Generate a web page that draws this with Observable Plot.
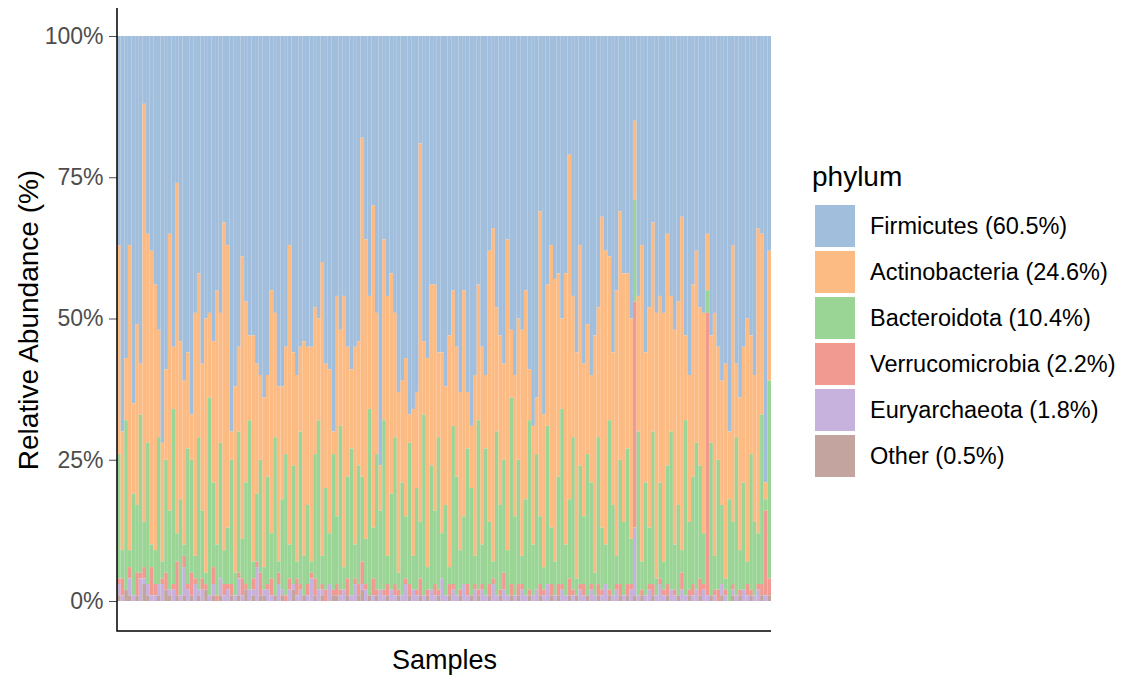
<!DOCTYPE html>
<html><head><meta charset="utf-8">
<script src="https://cdn.jsdelivr.net/npm/d3@7"></script>
<script src="https://cdn.jsdelivr.net/npm/@observablehq/plot@0.6"></script>
<style>
body{margin:0;background:#fff;font-family:"Liberation Sans",Arial,sans-serif;}
#wrap{position:relative;width:1128px;height:680px;overflow:hidden;}
#chart{position:absolute;left:0;top:0;}
#legend{position:absolute;left:812px;top:159px;color:#000;}
#legend .title{font-size:28px;line-height:36px;height:36px;}
#legend .rows{margin-top:10px;}
#legend .row{display:flex;align-items:center;height:42px;margin-bottom:4px;}
#legend .sw{width:40px;height:42px;margin-left:3px;}
#legend .lab{margin-left:15px;font-size:23.5px;}
</style></head>
<body><div id="wrap"><div id="chart"></div><div id="legend"></div></div>
<script>
const phyla = ["Firmicutes","Actinobacteria","Bacteroidota","Verrucomicrobia","Euryarchaeota","Other"];
const shares = ["60.5%","24.6%","10.4%","2.2%","1.8%","0.5%"];
const colors = ["#A1BEDC","#FDBB84","#9BD596","#F09A92","#C7B1DD","#C4A49F"];
const stackOrder = ["Other","Euryarchaeota","Verrucomicrobia","Bacteroidota","Actinobacteria","Firmicutes"];
const yTicks = [0,25,50,75,100];
const yTitle = "Relative Abundance (%)";
const xTitle = "Samples";
const legendTitle = "phylum";

const firmicutes = [
37,70,57,37,65,51,58,12,35,38,
44,52,72,59,35,55,26,54,61,56,
67,49,42,58,50,49,54,45,49,33,
37,70,62,55,39,47,53,53,58,60,
64,60,45,49,62,62,55,37,56,60,
55,54,55,55,48,50,40,58,59,70,
46,52,46,55,59,55,54,18,36,46,
30,49,76,36,46,42,49,63,61,57,
67,66,63,19,54,57,44,44,56,56,
62,53,45,55,63,45,63,69,60,44,
55,60,38,34,48,53,58,36,52,60,
50,52,45,59,69,64,31,67,44,37,
43,42,50,42,21,46,56,37,58,51,
60,53,48,32,38,39,56,45,31,42,
42,50,15,46,37,56,48,33,49,46,
49,35,46,52,47,32,53,60,44,38,
48,49,35,53,49,55,61,58,70,37,
58,64,55,50,53,60,34,35,79,38];
const actinobacteria = [
37,21,11,54,16,32,9,74,37,52,
47,19,21,16,49,11,62,28,29,17,
8,43,29,26,45,15,25,45,23,58,
50,5,33,15,50,32,15,40,23,15,
30,18,43,22,31,20,19,53,20,33,
15,38,28,38,26,18,52,22,29,4,
39,17,48,23,14,35,22,60,53,20,
57,25,8,32,46,39,22,32,18,28,
5,26,17,67,13,37,32,40,15,32,
21,41,24,23,28,40,10,11,32,24,
35,13,48,59,22,30,17,55,12,25,
25,40,37,9,21,10,54,27,25,50,
50,36,16,48,61,25,40,39,27,23,
19,42,23,55,52,29,27,47,44,44,
31,39,14,24,56,23,39,37,47,33,
44,41,24,38,36,59,15,26,34,34,
28,39,10,19,43,20,22,38,12,49,
13,27,24,43,21,26,54,32,3,23];
const bacteroidota = [
22,5,30,3,18,12,28,8,25,4,
6,26,3,20,14,31,5,17,2,24,
20,4,27,12,2,35,15,9,24,6,
10,22,4,25,7,18,30,3,12,20,
4,19,8,28,2,16,25,6,21,3,
27,7,14,2,22,30,5,18,9,24,
12,29,4,18,26,6,21,15,8,33,
9,24,14,30,5,17,26,3,20,11,
25,6,18,10,32,4,22,13,27,8,
16,3,28,21,7,12,24,19,5,30,
7,26,11,3,29,15,20,8,33,14,
22,5,17,30,9,24,12,4,28,10,
6,19,31,9,14,27,3,21,12,25,
18,4,26,11,7,30,16,5,22,13,
24,8,18,29,5,20,10,27,3,17,
5,21,28,8,16,4,31,12,19,26,
20,9,4,27,6,23,14,2,18,11,
28,7,19,4,24,13,9,30,2,35];
const verrucomicrobia = [
1,3,0,2,0,4,1,2,0,5,
2,0,1,3,0,1,6,0,2,1,
4,1,0,2,1,0,3,1,0,2,
1,2,0,1,3,1,0,2,1,4,
0,1,3,0,2,0,1,2,0,3,
1,0,2,1,3,0,1,2,0,1,
2,1,0,3,0,1,2,4,1,0,
3,1,0,1,2,0,2,1,0,1,
2,0,1,3,0,1,0,2,1,0,
0,2,1,0,1,0,2,0,1,1,
1,0,2,1,0,1,3,0,2,0,
2,1,0,1,0,0,2,1,0,2,
0,2,1,0,3,1,0,1,2,0,
1,0,2,1,0,1,0,1,2,0,
2,1,40,0,1,0,1,2,0,1,
1,2,0,1,0,3,0,1,2,0,
3,1,50,0,1,2,0,1,0,1,
0,1,0,2,1,0,1,2,15,3];
const euryarchaeota = [
2,1,0,3,1,0,4,1,2,1,
1,2,3,0,1,2,0,1,5,2,
0,3,1,2,0,1,2,0,3,1,
2,0,1,3,1,0,2,1,6,0,
1,2,1,0,3,1,0,2,1,1,
2,0,1,4,0,2,1,0,3,0,
0,1,2,0,1,3,0,1,2,0,
1,0,2,1,0,2,1,0,1,3,
0,2,1,0,1,0,2,1,0,4,
1,0,2,1,0,3,1,0,2,0,
2,1,0,3,1,0,2,1,0,1,
0,2,1,0,1,2,0,1,3,0,
1,0,2,1,0,1,0,2,1,0,
2,1,0,1,3,0,1,2,0,1,
0,2,12,1,0,1,2,0,1,3,
1,0,2,1,0,2,1,0,1,2,
0,2,1,0,1,0,2,1,0,1,
1,0,2,1,0,1,2,0,1,0];
const other = [
1,0,2,1,0,1,0,3,1,0,
0,1,0,2,1,0,1,0,1,0,
1,0,1,0,2,0,1,0,1,0,
0,1,0,1,0,2,0,1,0,1,
1,0,0,1,0,1,0,0,2,0,
0,1,0,0,1,0,1,0,0,1,
1,0,0,1,0,0,1,2,0,1,
0,1,0,0,1,0,0,1,0,0,
1,0,0,1,0,1,0,0,1,0,
0,1,0,0,1,0,0,1,0,1,
0,0,1,0,0,1,0,0,1,0,
1,0,0,1,0,0,1,0,0,1,
0,1,0,0,1,0,1,0,0,1,
0,0,1,0,0,1,0,0,1,0,
1,0,1,0,1,0,0,1,0,0,
0,1,0,0,1,0,0,1,0,0,
1,0,0,1,0,0,1,0,0,1,
0,1,0,0,1,0,0,1,0,1];

const series = [firmicutes, actinobacteria, bacteroidota, verrucomicrobia, euryarchaeota, other];
const samples = firmicutes.map((_, i) => "S" + (i + 1));
const rows = [];
samples.forEach((s, i) => phyla.forEach((p, j) => rows.push({sample: s, phylum: p, value: series[j][i]})));

const axisLines = (index, scales, values, dims) => {
  const g = d3.create("svg:g");
  const x0 = dims.marginLeft, x1 = dims.width - dims.marginRight;
  const y0 = dims.marginTop, y1 = dims.height - dims.marginBottom;
  g.append("path").attr("d", `M${x0},${y0}V${y1}H${x1}`)
    .attr("fill", "none").attr("stroke", "#000").attr("stroke-width", 1.5);
  return g.node();
};

const plot = Plot.plot({
  width: 790, height: 680,
  marginLeft: 117, marginRight: 19, marginTop: 8, marginBottom: 49,
  style: {fontFamily: "'Liberation Sans', Arial, sans-serif", background: "#fff", overflow: "visible"},
  x: {type: "band", domain: samples, padding: 0, axis: null},
  y: {domain: [-5.31, 104.96], axis: null},
  color: {domain: phyla, range: colors},
  marks: [
    Plot.barY(rows, Plot.stackY({x: "sample", y: "value", fill: "phylum", order: stackOrder})),
    Plot.axisY({ticks: yTicks, tickFormat: d => d + "%", tickSize: 8, tickPadding: 6, fontSize: 23, color: "#4d4d4d", label: null}),
    axisLines,
    Plot.text([yTitle], {frameAnchor: "left", textAnchor: "middle", rotate: -90, dx: -88, fontSize: 28, fill: "#000"}),
    Plot.text([xTitle], {frameAnchor: "bottom", textAnchor: "middle", lineAnchor: "middle", dy: 29, fontSize: 27, fill: "#000"})
  ]
});
document.getElementById("chart").appendChild(plot);

const leg = d3.select("#legend");
leg.append("div").attr("class", "title").text(legendTitle);
const rws = leg.append("div").attr("class", "rows");
phyla.forEach((p, i) => {
  const r = rws.append("div").attr("class", "row");
  r.append("div").attr("class", "sw").style("background", plot.scale("color").apply(p));
  r.append("div").attr("class", "lab").text(`${p} (${shares[i]})`);
});
</script>
</body></html>
